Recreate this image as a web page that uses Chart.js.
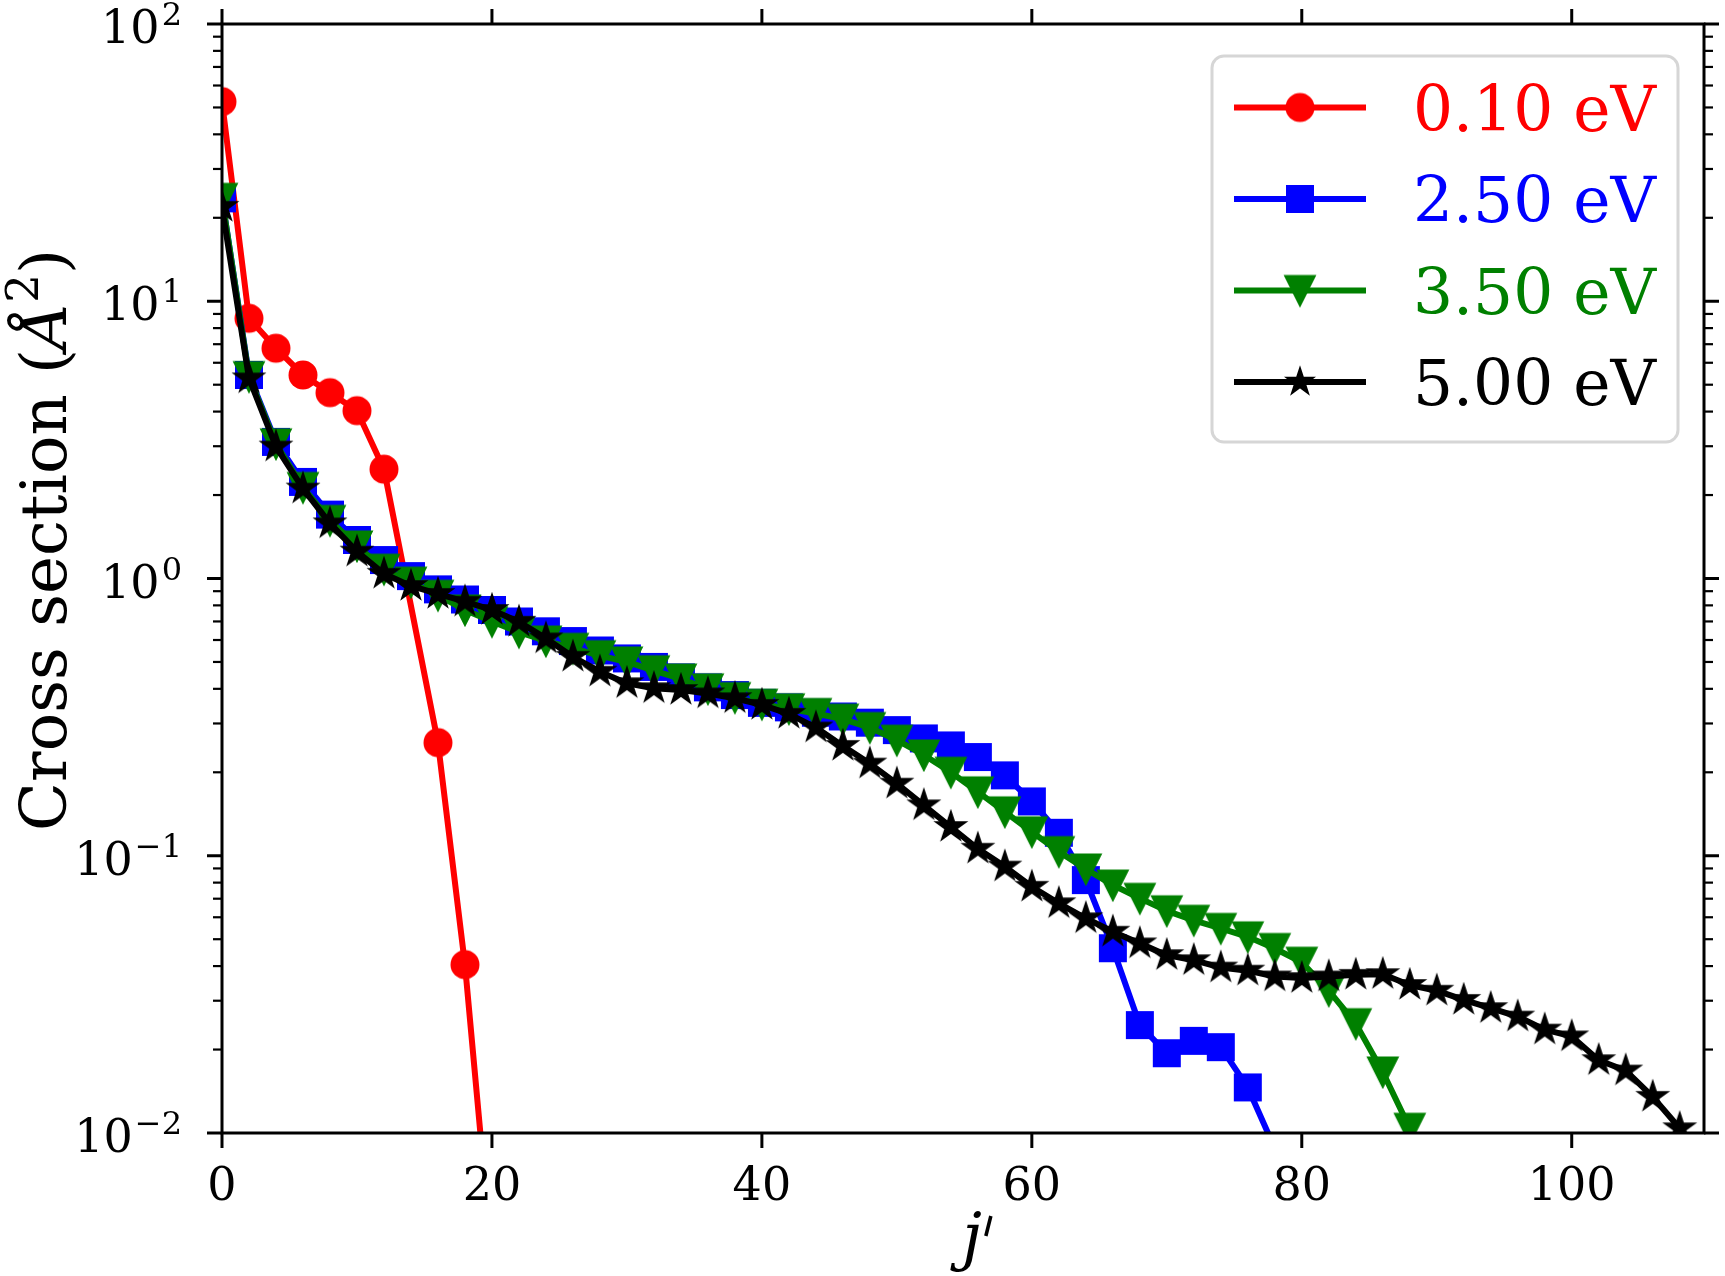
<!DOCTYPE html>
<html>
<head>
<meta charset="utf-8">
<title>Cross section vs j'</title>
<script src="https://cdn.jsdelivr.net/npm/chart.js@4.4.1/dist/chart.umd.min.js"></script>
<style>
  html, body { margin: 0; padding: 0; background: #ffffff; }
  canvas { display: block; }
</style>
</head>
<body>
<canvas id="myChart" width="1725" height="1276"></canvas>
<script>
// j' values of each curve
const jRed = [0, 2, 4, 6, 8, 10, 12, 16, 18, 20];
const jBlue = [0, 2, 4, 6, 8, 10, 12, 14, 16, 18, 20, 22, 24, 26, 28, 30, 32, 34, 36, 38,
               40, 42, 44, 46, 48, 50, 52, 54, 56, 58, 60, 62, 64, 66, 68, 70, 72, 74, 76, 78];
const jGreen = [0, 2, 4, 6, 8, 10, 12, 14, 16, 18, 20, 22, 24, 26, 28, 30, 32, 34, 36, 38,
                40, 42, 44, 46, 48, 50, 52, 54, 56, 58, 60, 62, 64, 66, 68, 70, 72, 74, 76, 78,
                80, 82, 84, 86, 88];
const jBlack = [0, 2, 4, 6, 8, 10, 12, 14, 16, 18, 20, 22, 24, 26, 28, 30, 32, 34, 36, 38,
                40, 42, 44, 46, 48, 50, 52, 54, 56, 58, 60, 62, 64, 66, 68, 70, 72, 74, 76, 78,
                80, 82, 84, 86, 88, 90, 92, 94, 96, 98, 100, 102, 104, 106, 108];

// cross sections (A^2)
const csRed = [52.5, 8.68, 6.77, 5.42, 4.68, 4.03, 2.48, 0.256, 0.0405, 0.0035];
const csBlue = [23.5, 5.42, 3.11, 2.23, 1.70, 1.377, 1.166, 1.02, 0.914, 0.84,
                0.77, 0.70, 0.645, 0.595, 0.55, 0.515, 0.48, 0.44, 0.405, 0.38,
                0.356, 0.343, 0.328, 0.318, 0.302, 0.284, 0.265, 0.25, 0.227, 0.195,
                0.157, 0.121, 0.0817, 0.0464, 0.0245, 0.0194, 0.0215, 0.0204, 0.0146, 0.0088];
const csGreen = [23.5, 5.35, 3.06, 2.13, 1.62, 1.31, 1.08, 0.97, 0.87, 0.77,
                 0.70, 0.64, 0.595, 0.56, 0.527, 0.50, 0.465, 0.434, 0.40, 0.372,
                 0.352, 0.339, 0.326, 0.311, 0.29, 0.261, 0.231, 0.200, 0.170, 0.144,
                 0.122, 0.1035, 0.0896, 0.0784, 0.0702, 0.0633, 0.0585, 0.0547, 0.051, 0.0463,
                 0.0413, 0.0326, 0.0248, 0.0166, 0.0104];
const csBlack = [21.9, 5.27, 2.99, 2.11, 1.58, 1.25, 1.04, 0.94, 0.88, 0.825,
                 0.77, 0.698, 0.608, 0.522, 0.461, 0.419, 0.402, 0.396, 0.385, 0.37,
                 0.35, 0.325, 0.29, 0.249, 0.215, 0.182, 0.152, 0.127, 0.106, 0.0914,
                 0.0773, 0.0674, 0.0595, 0.0532, 0.0483, 0.0438, 0.042, 0.0395, 0.0385, 0.0367,
                 0.0362, 0.0367, 0.0372, 0.0374, 0.0342, 0.0326, 0.0302, 0.0282, 0.0263, 0.0236,
                 0.0223, 0.0183, 0.0168, 0.0135, 0.0104];

const seriesLabels = ['0.10 eV', '2.50 eV', '3.50 eV', '5.00 eV'];
const seriesColors = ['#ff0000', '#0000ff', '#008000', '#000000'];
const seriesMarkers = ['circle', 'square', 'triangleDown', 'star'];

const xTicks = [0, 20, 40, 60, 80, 100];
const yPowers = [-2, -1, 0, 1, 2];

const FONT = '"DejaVu Serif", "Liberation Serif", serif';

// matplotlib-like marker drawn on a small canvas
function makeMarker(kind, color, starR) {
    const c = document.createElement('canvas');
    c.width = 40; c.height = 40;
    const g = c.getContext('2d');
    const m = 20;
    g.fillStyle = color;
    g.strokeStyle = color;
    g.beginPath();
    if (kind === 'circle') {
        g.arc(m, m, 14.5, 0, Math.PI * 2);
        g.fill();
        return c;
    }
    if (kind === 'square') {
        g.fillRect(m - 14, m - 14, 28, 28);
        return c;
    }
    if (kind === 'triangleDown') {
        g.moveTo(m - 14, m - 14);
        g.lineTo(m + 14, m - 14);
        g.lineTo(m, m + 14);
    } else {
        const R = starR, r = R * 0.381966;
        for (let i = 0; i < 10; i++) {
            const rad = i % 2 === 0 ? R : r;
            const ang = -Math.PI / 2 + i * Math.PI / 5;
            const px = m + rad * Math.cos(ang), py = m + rad * Math.sin(ang);
            if (i === 0) g.moveTo(px, py); else g.lineTo(px, py);
        }
    }
    g.closePath();
    g.fill();
    g.lineWidth = 3;
    g.lineJoin = 'miter';
    g.stroke();
    return c;
}

const markerImgs = seriesColors.map((col, i) => makeMarker(seriesMarkers[i], col, 13.5));
const legendImgs = seriesColors.map((col, i) => makeMarker(seriesMarkers[i], col, 12));

function toPoints(xs, ys) {
    return xs.map((x, i) => ({ x: x, y: ys[i] }));
}

function makeDataset(i, xs, ys) {
    return {
        label: seriesLabels[i],
        data: toPoints(xs, ys),
        showLine: true,
        borderColor: seriesColors[i],
        backgroundColor: seriesColors[i],
        borderWidth: 6,
        borderJoinStyle: 'round',
        tension: 0,
        pointStyle: markerImgs[i],
        pointRadius: 15,
        pointHoverRadius: 15,
        clip: 0,
        order: 4 - i   // last series on top, like matplotlib
    };
}

function drawLine(ctx, x1, y1, x2, y2) {
    ctx.beginPath();
    ctx.moveTo(x1, y1);
    ctx.lineTo(x2, y2);
    ctx.stroke();
}

// spines, ticks, labels and legend
const framePlugin = {
    id: 'frame',
    afterDraw(chart) {
        const ctx = chart.ctx;
        const a = chart.chartArea;
        const xs = chart.scales.x, ys = chart.scales.y;
        ctx.save();
        ctx.strokeStyle = '#000';
        ctx.fillStyle = '#000';
        ctx.lineCap = 'butt';

        // minor y ticks
        ctx.lineWidth = 2.2;
        yPowers.slice(0, -1).forEach(p => {
            for (let k = 2; k <= 9; k++) {
                const py = ys.getPixelForValue(k * Math.pow(10, p));
                drawLine(ctx, a.left, py, a.left - 9, py);
                drawLine(ctx, a.right, py, a.right + 9, py);
            }
        });

        // major ticks
        ctx.lineWidth = 3;
        yPowers.forEach(p => {
            const py = ys.getPixelForValue(Math.pow(10, p));
            drawLine(ctx, a.left, py, a.left - 15, py);
            drawLine(ctx, a.right, py, a.right + 15, py);
        });
        xTicks.forEach(v => {
            const px = xs.getPixelForValue(v);
            drawLine(ctx, px, a.bottom, px, a.bottom + 15);
            drawLine(ctx, px, a.top, px, a.top - 15);
        });

        // spines
        ctx.lineJoin = 'miter';
        ctx.strokeRect(a.left, a.top, a.right - a.left, a.bottom - a.top);

        // x tick labels
        ctx.font = '46px ' + FONT;
        ctx.textAlign = 'center';
        ctx.textBaseline = 'alphabetic';
        xTicks.forEach(v => {
            ctx.fillText(String(v), xs.getPixelForValue(v), 1200);
        });

        // y tick labels 10^p
        yPowers.forEach(p => {
            const py = ys.getPixelForValue(Math.pow(10, p));
            const sup = p < 0 ? '\u2212' + Math.abs(p) : String(p);
            ctx.font = '32px ' + FONT;
            const ws = ctx.measureText(sup).width;
            ctx.font = '46px ' + FONT;
            const wb = ctx.measureText('10').width;
            const right = 182;
            ctx.textAlign = 'left';
            ctx.fillText('10', right - ws - wb - 2, py + 19);
            ctx.font = '32px ' + FONT;
            ctx.fillText(sup, right - ws, py + 1);
        });

        // x axis label: italic j followed by a prime stroke
        ctx.textAlign = 'left';
        ctx.font = 'italic 64px ' + FONT;
        const wj = ctx.measureText('j').width;
        ctx.fillText('j', 962, 1258);
        ctx.lineWidth = 3.5;
        drawLine(ctx, 962 + wj + 9, 1216, 962 + wj + 4, 1236);

        // y axis label, rotated
        ctx.save();
        ctx.translate(66, 540);
        ctx.rotate(-Math.PI / 2);
        const parts = [
            { t: 'Cross section (', f: '64px ' + FONT, dy: 0 },
            { t: '\u00c5', f: 'italic 64px ' + FONT, dy: 0 },
            { t: '2', f: '45px ' + FONT, dy: -28 },
            { t: ')', f: '64px ' + FONT, dy: 0 }
        ];
        let total = 0;
        parts.forEach(pt => { ctx.font = pt.f; pt.w = ctx.measureText(pt.t).width; total += pt.w; });
        let tx = -total / 2;
        ctx.textAlign = 'left';
        parts.forEach(pt => { ctx.font = pt.f; ctx.fillText(pt.t, tx, pt.dy); tx += pt.w; });
        ctx.restore();

        // legend box
        const bx = 1212, by = 56, bw = 466, bh = 386, rr = 12;
        ctx.beginPath();
        ctx.moveTo(bx + rr, by);
        ctx.arcTo(bx + bw, by, bx + bw, by + bh, rr);
        ctx.arcTo(bx + bw, by + bh, bx, by + bh, rr);
        ctx.arcTo(bx, by + bh, bx, by, rr);
        ctx.arcTo(bx, by, bx + bw, by, rr);
        ctx.closePath();
        ctx.fillStyle = 'rgba(255,255,255,0.8)';
        ctx.fill();
        ctx.strokeStyle = '#d6d6d6';
        ctx.lineWidth = 3;
        ctx.stroke();

        const rows = [107.5, 199, 290.5, 382];
        ctx.font = '63px ' + FONT;
        ctx.textAlign = 'left';
        seriesLabels.forEach((lab, i) => {
            const ry = rows[i];
            ctx.strokeStyle = seriesColors[i];
            ctx.lineWidth = 6;
            drawLine(ctx, 1234, ry, 1366, ry);
            const img = legendImgs[i];
            ctx.drawImage(img, 1300 - img.width / 2, ry - img.height / 2);
            ctx.fillStyle = seriesColors[i];
            ctx.fillText(lab, 1413, ry + 23);
        });

        ctx.restore();
    }
};

new Chart(document.getElementById('myChart'), {
    type: 'scatter',
    data: {
        datasets: [
            makeDataset(0, jRed, csRed),
            makeDataset(1, jBlue, csBlue),
            makeDataset(2, jGreen, csGreen),
            makeDataset(3, jBlack, csBlack)
        ]
    },
    options: {
        responsive: false,
        animation: false,
        devicePixelRatio: 1,
        events: [],
        layout: { padding: { left: 222, right: 18, top: 24, bottom: 143 } },
        scales: {
            x: { type: 'linear', min: 0, max: 109.8, display: false },
            y: { type: 'logarithmic', min: 0.01, max: 100, display: false }
        },
        plugins: {
            legend: { display: false },
            tooltip: { enabled: false }
        }
    },
    plugins: [framePlugin]
});
</script>
</body>
</html>
